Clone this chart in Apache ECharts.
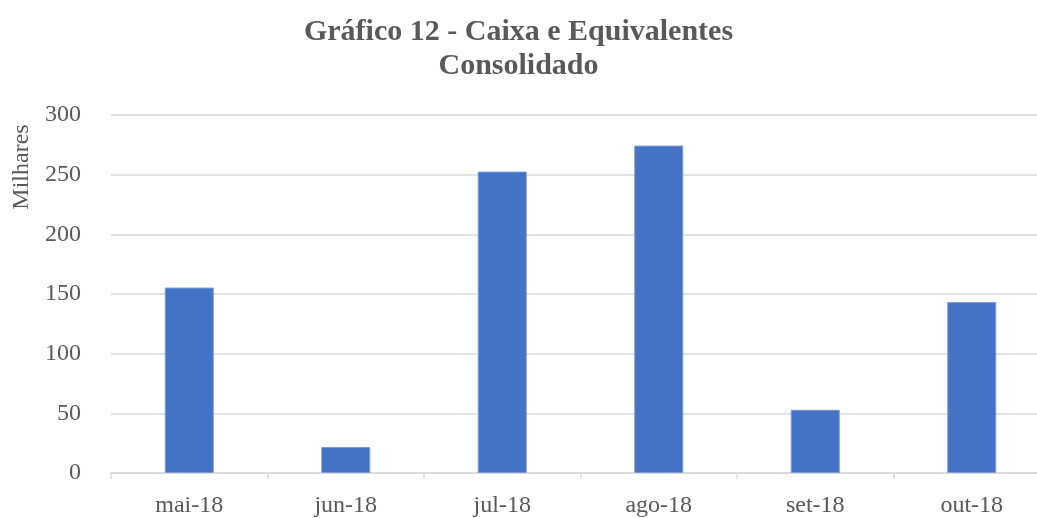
<!DOCTYPE html>
<html>
<head>
<meta charset="utf-8">
<script src="https://cdn.jsdelivr.net/npm/echarts@6/dist/echarts.min.js"></script>
<style>
  html, body { margin: 0; padding: 0; background: #fff; }
  #chart { width: 1037px; height: 518px; }
</style>
</head>
<body>
<div id="chart"></div>
<script>
// dados do gráfico (milhares)
const months = ["mai-18", "jun-18", "jul-18", "ago-18", "set-18", "out-18"];
const caixa = [155.4, 21.8, 252.6, 274.4, 53.0, 143.2];
const yTicks = [0, 300, 50];

const textColor = "#595959";
const fontFamily = "'Liberation Serif', 'DejaVu Serif', serif";

const chart = echarts.init(document.getElementById("chart"));
chart.setOption({
  animation: false,
  title: {
    text: "Gráfico 12 - Caixa e Equivalentes\nConsolidado",
    left: "center",
    top: 10,
    textStyle: {
      color: textColor,
      fontFamily: fontFamily,
      fontWeight: "bold",
      fontSize: 30,
      lineHeight: 34,
    },
  },
  grid: {
    left: 111,
    right: -13,
    top: 115,
    bottom: 45,
    outerBoundsMode: "none",
  },
  graphic: [
    {
      type: "text",
      x: 22,
      y: 167,
      rotation: Math.PI / 2,
      style: {
        text: "Milhares",
        fill: textColor,
        font: "24px " + fontFamily,
        textAlign: "center",
        textVerticalAlign: "middle",
      },
    },
  ],
  xAxis: {
    type: "category",
    data: months,
    axisLine: { lineStyle: { color: "#d9d9d9", width: 1.5 } },
    axisTick: { show: true, length: 6, lineStyle: { color: "#d9d9d9", width: 1.5 } },
    axisLabel: {
      color: textColor,
      fontFamily: fontFamily,
      fontSize: 24,
      margin: 21,
    },
  },
  yAxis: {
    type: "value",
    min: yTicks[0],
    max: yTicks[1],
    interval: yTicks[2],
    axisLine: { show: false },
    axisTick: { show: false },
    splitLine: { lineStyle: { color: "#d9d9d9", width: 1.5 } },
    axisLabel: {
      color: textColor,
      fontFamily: fontFamily,
      fontSize: 24,
      margin: 30,
    },
  },
  series: [
    {
      type: "bar",
      data: caixa,
      barWidth: 49,
      itemStyle: {
        color: "#4472C4",
        borderColor: "#7a9bd8",
        borderWidth: 1,
      },
    },
  ],
});
</script>
</body>
</html>
